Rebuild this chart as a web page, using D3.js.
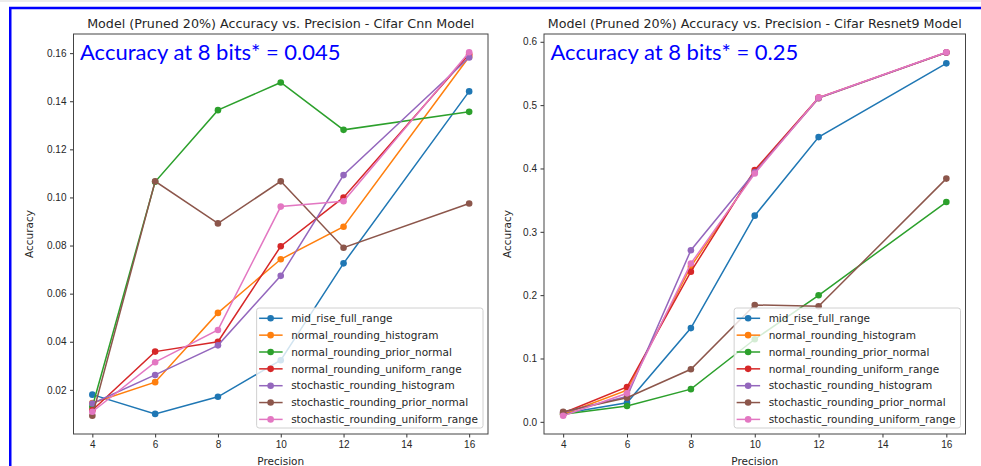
<!DOCTYPE html>
<html>
<head>
<meta charset="utf-8">
<script src="https://cdn.jsdelivr.net/npm/d3@7"></script>
<style>
  body { margin: 0; background: #fff; }
  svg { display: block; font-family: "DejaVu Sans", sans-serif; }
  .tick text { fill: #262626; }
</style>
</head>
<body>
<svg id="chart" width="981" height="466"></svg>
<script>
// Shared x values and series names
const precisions = [4, 6, 8, 10, 12, 16];
const methods = [
    'mid_rise_full_range',
    'normal_rounding_histogram',
    'normal_rounding_prior_normal',
    'normal_rounding_uniform_range',
    'stochastic_rounding_histogram',
    'stochastic_rounding_prior_normal',
    'stochastic_rounding_uniform_range'
];
const methodColors = ['#1f77b4', '#ff7f0e', '#2ca02c', '#d62728', '#9467bd', '#8c564b', '#e377c2'];

// Cifar Cnn accuracies, one row per method (same order as methods)
const cnnAccuracy = [
    [0.0180, 0.0100, 0.0171, 0.0323, 0.0726, 0.1441],
    [0.0145, 0.0232, 0.0520, 0.0743, 0.0878, 0.1585],
    [0.0130, 0.1065, 0.1363, 0.1478, 0.1281, 0.1356],
    [0.0115, 0.0359, 0.0400, 0.0797, 0.1000, 0.1595],
    [0.0143, 0.0262, 0.0385, 0.0674, 0.1093, 0.1582],
    [0.0092, 0.1067, 0.0892, 0.1067, 0.0791, 0.0975],
    [0.0109, 0.0315, 0.0449, 0.0962, 0.0984, 0.1604]
];
const cnnYTicks = [0.02, 0.04, 0.06, 0.08, 0.10, 0.12, 0.14, 0.16];

// Cifar Resnet9 accuracies
const resnetAccuracy = [
    [0.013, 0.030, 0.148, 0.3255, 0.4495, 0.566],
    [0.012, 0.050, 0.245, 0.395, 0.511, 0.583],
    [0.012, 0.025, 0.0516, 0.1304, 0.1998, 0.347],
    [0.014, 0.055, 0.237, 0.3975, 0.512, 0.583],
    [0.015, 0.040, 0.271, 0.394, 0.511, 0.583],
    [0.016, 0.038, 0.083, 0.1845, 0.1825, 0.384],
    [0.0095, 0.045, 0.250, 0.392, 0.512, 0.5836]
];
const resnetYTicks = [0.0, 0.1, 0.2, 0.3, 0.4, 0.5, 0.6];
const xTicks = [4, 6, 8, 10, 12, 14, 16];

class AccuracyPanel {
    constructor(_config, _data) {
        this.config = _config;
        this.data = _data;
        this.initVis();
    }

    initVis() {
        let vis = this;
        const c = vis.config;

        vis.g = d3.select('#chart').append('g');

        // matplotlib style: 5% padding around data range
        const xExt = d3.extent(precisions);
        const xPad = (xExt[1] - xExt[0]) * 0.05;
        vis.xScale = d3.scaleLinear()
            .domain([xExt[0] - xPad, xExt[1] + xPad])
            .range([c.left, c.right]);

        const yExt = d3.extent(vis.data.flat());
        const yPad = (yExt[1] - yExt[0]) * 0.05;
        vis.yScale = d3.scaleLinear()
            .domain([yExt[0] - yPad, yExt[1] + yPad])
            .range([c.bottom, c.top]);

        // Axes
        const xAxis = d3.axisBottom(vis.xScale)
            .tickValues(xTicks).tickSize(3.5).tickPadding(3.5).tickFormat(d3.format('d'));
        const yAxis = d3.axisLeft(vis.yScale)
            .tickValues(c.yTicks).tickSize(3.5).tickPadding(3.5).tickFormat(d3.format(c.yFormat));

        vis.g.append('g')
            .attr('transform', `translate(0,${c.bottom})`)
            .call(xAxis)
            .call(g => g.select('.domain').remove())
            .call(g => g.selectAll('text').attr('font-size', 10).attr('font-family', null));
        vis.g.append('g')
            .attr('transform', `translate(${c.left},0)`)
            .call(yAxis)
            .call(g => g.select('.domain').remove())
            .call(g => g.selectAll('text').attr('font-size', 10).attr('font-family', null));
        vis.g.selectAll('.tick line').attr('stroke', '#333');

        // Series lines and markers
        const line = d3.line()
            .x((d, i) => vis.xScale(precisions[i]))
            .y(d => vis.yScale(d));

        vis.data.forEach((values, k) => {
            const s = vis.g.append('g');
            s.append('path')
                .attr('d', line(values))
                .attr('fill', 'none')
                .attr('stroke', methodColors[k])
                .attr('stroke-width', 1.5);
            s.selectAll('circle')
                .data(values)
                .join('circle')
                .attr('cx', (d, i) => vis.xScale(precisions[i]))
                .attr('cy', d => vis.yScale(d))
                .attr('r', 3.3)
                .attr('fill', methodColors[k]);
        });

        // Frame
        vis.g.append('rect')
            .attr('x', c.left).attr('y', c.top)
            .attr('width', c.right - c.left).attr('height', c.bottom - c.top)
            .attr('fill', 'none').attr('stroke', '#444').attr('stroke-width', 1);

        // Titles and labels
        const cx = (c.left + c.right) / 2;
        vis.g.append('text')
            .attr('x', cx).attr('y', 27.5)
            .attr('text-anchor', 'middle')
            .attr('font-size', 12.7).attr('fill', '#262626')
            .text(c.title);
        vis.g.append('text')
            .attr('x', cx).attr('y', 465)
            .attr('text-anchor', 'middle')
            .attr('font-size', 10.5).attr('fill', '#262626')
            .text('Precision');
        vis.g.append('text')
            .attr('transform', `translate(${c.yLabelX},${(c.top + c.bottom) / 2}) rotate(-90)`)
            .attr('text-anchor', 'middle')
            .attr('font-size', 10.5).attr('fill', '#262626')
            .text('Accuracy');

        // Blue annotation
        vis.g.append('text')
            .attr('x', c.left + 6.5).attr('y', 60)
            .attr('font-family', 'Lato, sans-serif')
            .attr('font-size', 22)
            .attr('fill', '#0000ff')
            .text(c.note);

        vis.renderLegend();
    }

    renderLegend() {
        let vis = this;
        const c = vis.config;
        const rowH = 16.85;
        const leg = vis.g.append('g');
        const box = leg.append('rect')
            .attr('rx', 2.5)
            .attr('fill', 'rgba(255,255,255,0.8)')
            .attr('stroke', '#d0d0d0');

        const texts = [];
        methods.forEach((m, k) => {
            const yy = 10.3 + k * rowH;
            leg.append('line')
                .attr('x1', 2.5).attr('x2', 26).attr('y1', yy).attr('y2', yy)
                .attr('stroke', methodColors[k]).attr('stroke-width', 1.5);
            leg.append('circle')
                .attr('cx', 14).attr('cy', yy).attr('r', 3.3)
                .attr('fill', methodColors[k]);
            texts.push(leg.append('text')
                .attr('x', 34.5).attr('y', yy).attr('dy', '0.35em')
                .attr('font-size', 10.5).attr('fill', '#262626')
                .text(m));
        });
        const maxW = d3.max(texts, t => t.node().getComputedTextLength());
        const w = 34.5 + maxW + 5;
        const h = 120;
        box.attr('width', w).attr('height', h);
        leg.attr('transform', `translate(${c.right - 5 - w},${c.bottom - 6 - h})`);
    }
}

// Page decoration: thin grey strip and blue slide border
const svg = d3.select('#chart');
svg.append('rect').attr('x', 0).attr('y', 0).attr('width', 981).attr('height', 2).attr('fill', '#ececec');
svg.append('rect')
    .attr('x', 10.25).attr('y', 8).attr('width', 1000).attr('height', 500)
    .attr('fill', 'none').attr('stroke', '#0000ff').attr('stroke-width', 2.5);

new AccuracyPanel({
    left: 73.5, right: 488, top: 34, bottom: 434,
    yTicks: cnnYTicks, yFormat: '.2f', yLabelX: 33,
    title: 'Model (Pruned 20%) Accuracy vs. Precision - Cifar Cnn Model',
    note: 'Accuracy at 8 bits* = 0.045'
}, cnnAccuracy);

new AccuracyPanel({
    left: 544, right: 965.5, top: 34, bottom: 434,
    yTicks: resnetYTicks, yFormat: '.1f', yLabelX: 511,
    title: 'Model (Pruned 20%) Accuracy vs. Precision - Cifar Resnet9 Model',
    note: 'Accuracy at 8 bits* = 0.25'
}, resnetAccuracy);
</script>
</body>
</html>
